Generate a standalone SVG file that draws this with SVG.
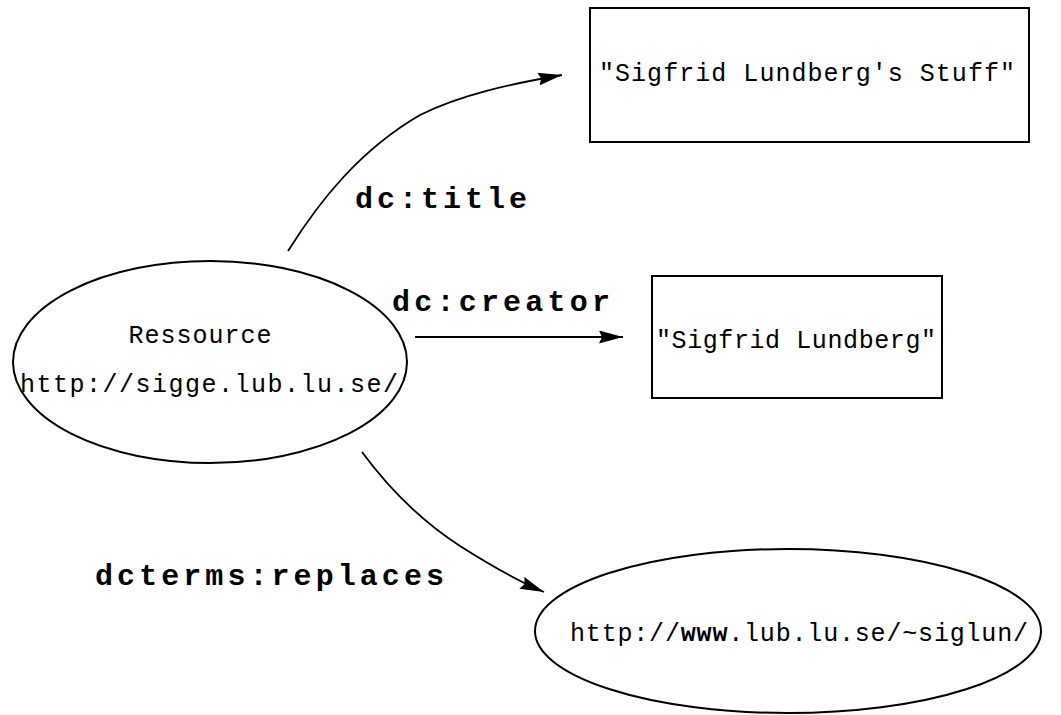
<svg xmlns="http://www.w3.org/2000/svg" width="1061" height="715" viewBox="0 0 1061 715">
<style>
.shape{fill:none;stroke:#000;stroke-width:2}
.conn{fill:none;stroke:#000;stroke-width:1.8}
.node{font-family:"Liberation Mono","Courier New",monospace;font-size:25px;fill:#000}
.lbl{font-family:"Liberation Mono","Courier New",monospace;font-size:30px;font-weight:bold;fill:#000}
</style>
<defs>
<marker id="arr" markerWidth="24" markerHeight="13" refX="24" refY="6.5" orient="auto" markerUnits="userSpaceOnUse">
<path d="M0,0 L24,6.5 L0,13 L3,6.5 Z" fill="#000"/>
</marker>
</defs>
<rect width="1061" height="715" fill="#fff"/>
<g id="connectors">
<path class="conn" d="M288,251 C320,200 360,150 420,115 C460,95 510,84 562,75" marker-end="url(#arr)"/>
<path class="conn" d="M415,337 L623,337" marker-end="url(#arr)"/>
<path class="conn" d="M362,452 C390,490 420,520 460,546 C490,565 515,580 544,592" marker-end="url(#arr)"/>
<text class="lbl" x="355" y="208" textLength="172" lengthAdjust="spacing">dc:title</text>
<text class="lbl" x="392" y="311" textLength="218" lengthAdjust="spacing">dc:creator</text>
<text class="lbl" x="95" y="585" textLength="349" lengthAdjust="spacing">dcterms:replaces</text>
</g>
<g id="ressource">
<ellipse class="shape" cx="210" cy="362" rx="197" ry="101"/>
<text class="node" x="200" y="343" text-anchor="middle" textLength="143" lengthAdjust="spacing">Ressource</text>
<text class="node" x="20" y="392" textLength="378" lengthAdjust="spacing">http://sigge.lub.lu.se/</text>
</g>
<g id="title">
<rect class="shape" x="590" y="8" width="439" height="134"/>
<text class="node" x="599" y="81" textLength="416" lengthAdjust="spacing">"Sigfrid Lundberg's Stuff"</text>
</g>
<g id="creator">
<rect class="shape" x="652" y="276" width="290" height="122"/>
<text class="node" x="656" y="348" textLength="280" lengthAdjust="spacing">"Sigfrid Lundberg"</text>
</g>
<g id="replaces">
<ellipse class="shape" cx="788" cy="631" rx="253" ry="82"/>
<text class="node" x="570" y="641" textLength="458" lengthAdjust="spacing">http://<tspan font-weight="bold">www</tspan>.lub.lu.se/~siglun/</text>
</g>
</svg>
